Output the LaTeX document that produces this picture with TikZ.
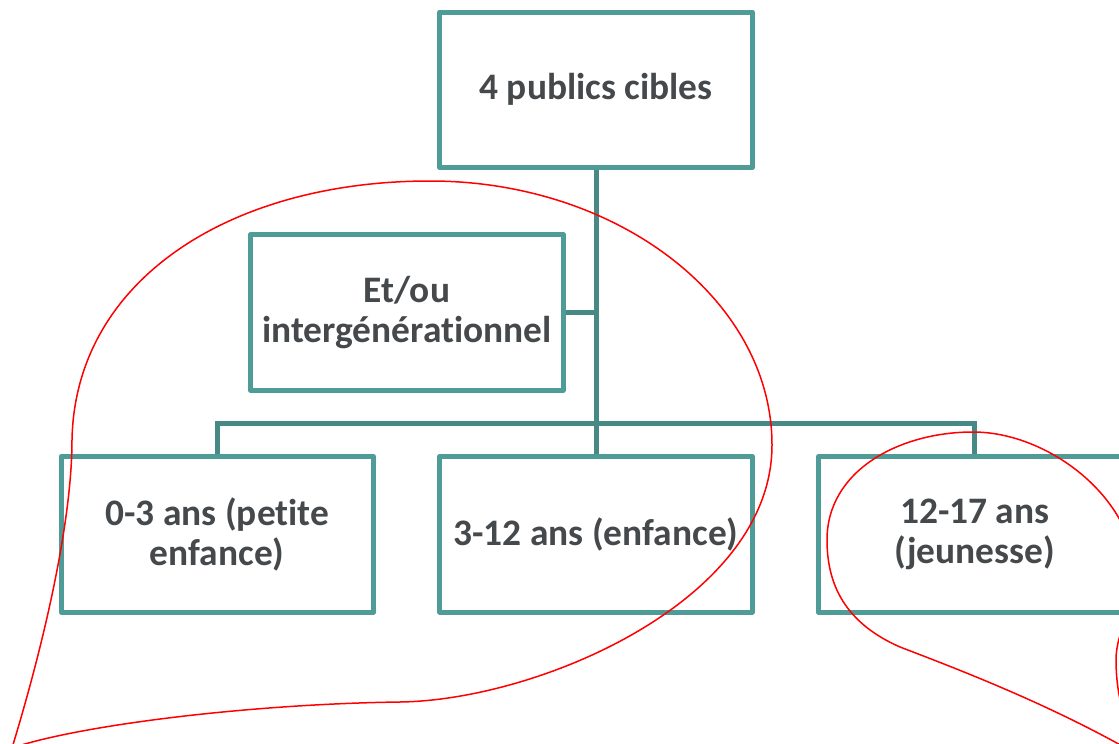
\documentclass[tikz,border=0pt]{standalone}
\usepackage{fontspec}
\setmainfont{Carlito}[Ligatures=NoCommon]
\usetikzlibrary{calc}
\definecolor{boxteal}{HTML}{4F9B98}
\definecolor{linkteal}{HTML}{478985}
\definecolor{textgray}{HTML}{46494B}
\tikzset{
  publicbox/.style={draw=boxteal, line width=5pt, line join=round, fill=white,
    minimum width=312.5pt, minimum height=155.5pt, inner sep=0pt, align=center,
    text=textgray, font=\bfseries\fontsize{37.4}{40}\selectfont},
  link/.style={draw=linkteal, line width=5pt},
  lasso/.style={draw=red, line width=1.5pt}
}
\newcommand{\publicbox}[4]{\node[publicbox] (#1) at (#2,#3) {#4};}

\begin{document}
\begin{tikzpicture}[x=1pt, y=-1pt]
        \useasboundingbox (0,0) rectangle (1119,744);
        \clip (0,0) rectangle (1119,744);
        % boxes
        \publicbox{cibles}{596}{89.75}{4 publics cibles}
        \publicbox{etou}{407}{312.5}{Et/ou\\intergénérationnel}
        \publicbox{petite}{217.25}{534.25}{0-3 ans (petite\\enfance)}
        \publicbox{enfance}{596}{534.25}{3-12 ans (enfance)}
        \publicbox{jeunesse}{974.75}{534.25}{12-17 ans\\(jeunesse)}
        % links
        \coordinate (hub) at (596,423);
        \draw[link] (cibles) -- (hub);
        \draw[link] (etou.east) -- (etou.east -| hub);
        \draw[link] (petite) |- (hub) -| (jeunesse);
        \draw[link] (hub) -- (enfance);
        % red marks
        \draw[lasso] (12,748) .. controls (45,640) and (72,520) .. (72,440)
          .. controls (75,280) and (230,181) .. (430,181)
          .. controls (618,181) and (772,300) .. (772,445)
          .. controls (772,600) and (540,700) .. (400,702)
          .. controls (250,704) and (80,725) .. (12,748);
        \draw[lasso] (1150,762) .. controls (1060,708) and (960,670) .. (900,647)
          .. controls (850,625) and (827,590) .. (827,540)
          .. controls (827,470) and (900,432) .. (973,432)
          .. controls (1050,432) and (1135,500) .. (1135,575)
          .. controls (1135,610) and (1116,630) .. (1116,660)
          .. controls (1116,700) and (1128,740) .. (1150,762);
\end{tikzpicture}
\end{document}
